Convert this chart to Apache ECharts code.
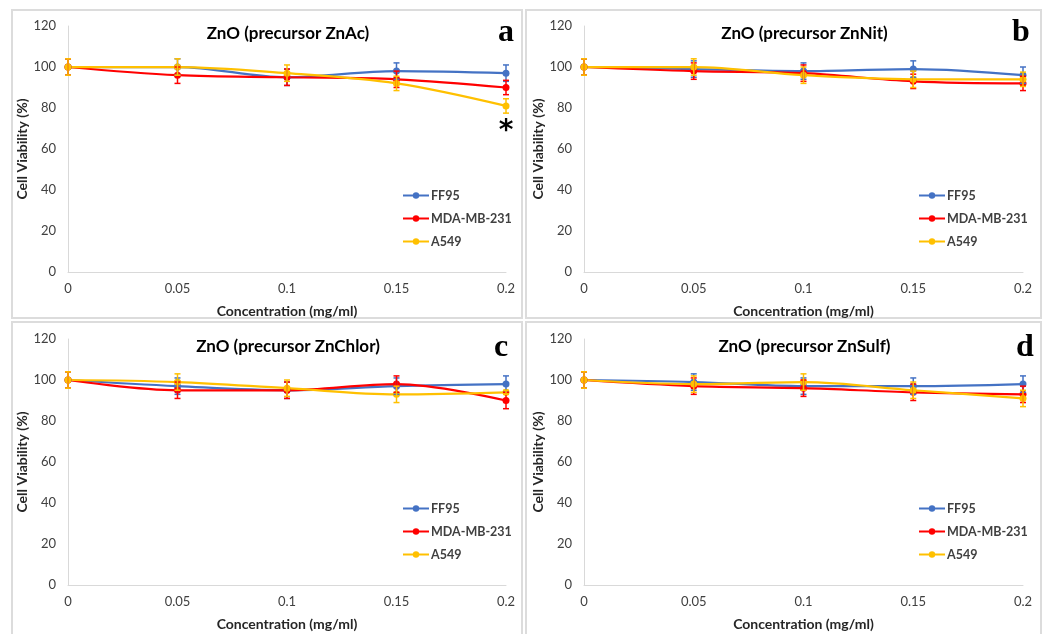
<!DOCTYPE html>
<html>
<head>
<meta charset="utf-8">
<script src="https://cdn.jsdelivr.net/npm/echarts@6/dist/echarts.min.js"></script>
<style>
html,body{margin:0;padding:0;background:#fff;}
#chart{width:1047px;height:634px;}
</style>
</head>
<body>
<div id="chart"></div>
<script>
// ---- data ----
const concentrations = [0, 0.05, 0.1, 0.15, 0.2];
const seriesNames = ['FF95', 'MDA-MB-231', 'A549'];
const panelTitles = ['ZnO (precursor ZnAc)', 'ZnO (precursor ZnNit)', 'ZnO (precursor ZnChlor)', 'ZnO (precursor ZnSulf)'];
const panelLetters = ['a', 'b', 'c', 'd'];
const yTicks = [0, 20, 40, 60, 80, 100, 120];

// Panel a (ZnAc)
const aFF95 = [100, 100, 95, 98, 97];
const aMDA = [100, 96, 95, 94, 90];
const aA549 = [100, 100, 97, 92, 81];
const aFF95Err = [4, 4, 4, 4, 4];
const aMDAErr = [4, 4, 4, 4, 3.5];
const aA549Err = [4, 4, 4, 3.5, 3.5];

// Panel b (ZnNit)
const bFF95 = [100, 99, 98, 99, 96];
const bMDA = [100, 98, 97, 93, 92];
const bA549 = [100, 100, 96, 94, 94];
const bFF95Err = [4, 4, 4, 4, 4];
const bMDAErr = [4, 4, 4, 3.5, 3.5];
const bA549Err = [4, 4, 4, 4, 3.5];

// Panel c (ZnChlor)
const cFF95 = [100, 97, 95, 97, 98];
const cMDA = [100, 95, 95, 98, 90];
const cA549 = [100, 99, 96, 93, 94];
const cFF95Err = [4, 4, 4, 4, 4];
const cMDAErr = [4, 4, 4, 4, 4];
const cA549Err = [4, 4, 4, 4, 1];

// Panel d (ZnSulf)
const dFF95 = [100, 99, 97, 97, 98];
const dMDA = [100, 97, 96, 94, 93];
const dA549 = [100, 98, 99, 95, 91];
const dFF95Err = [4, 4, 4, 4, 4];
const dMDAErr = [4, 4, 4, 4, 4];
const dA549Err = [4, 4, 4, 4, 4];

const panelValues = [[aFF95, aMDA, aA549], [bFF95, bMDA, bA549], [cFF95, cMDA, cA549], [dFF95, dMDA, dA549]];
const panelErrors = [[aFF95Err, aMDAErr, aA549Err], [bFF95Err, bMDAErr, bA549Err], [cFF95Err, cMDAErr, cA549Err], [dFF95Err, dMDAErr, dA549Err]];

// ---- styles / layout ----
const colors = ['#4472C4', '#FF0000', '#FFC000'];
const FONT = 'Lato, "Open Sans", sans-serif';
const grids = [
  {left: 68, top: 26, width: 438, height: 246},
  {left: 584, top: 26, width: 439, height: 246},
  {left: 68, top: 339, width: 438, height: 246},
  {left: 584, top: 339, width: 439, height: 246}
];

const chart = echarts.init(document.getElementById('chart'));

const option = {
  backgroundColor: '#fff',
  animation: false,
  grid: grids,
  xAxis: grids.map((g, i) => ({
    gridIndex: i, type: 'value', min: 0, max: 0.2, interval: 0.05,
    name: 'Concentration (mg/ml)', nameLocation: 'middle', nameGap: 32,
    nameTextStyle: {fontFamily: FONT, fontWeight: 'bold', fontSize: 14, color: '#262626'},
    axisLine: {show: true, lineStyle: {color: '#d9d9d9', width: 1}},
    axisTick: {show: false}, splitLine: {show: false},
    axisLabel: {fontFamily: FONT, fontSize: 13, color: '#404040', margin: 10,
      formatter: v => String(Math.round(v * 100) / 100)}
  })),
  yAxis: grids.map((g, i) => ({
    gridIndex: i, type: 'value', min: yTicks[0], max: yTicks[yTicks.length - 1], interval: yTicks[1] - yTicks[0],
    name: 'Cell Viability (%)', nameLocation: 'middle', nameGap: 37,
    nameTextStyle: {fontFamily: FONT, fontWeight: 'bold', fontSize: 14, color: '#262626'},
    axisLine: {show: true, lineStyle: {color: '#d9d9d9', width: 1}},
    axisTick: {show: false}, splitLine: {show: false},
    axisLabel: {fontFamily: FONT, fontSize: 13, color: '#404040', margin: 12}
  })),
  legend: grids.map((g, i) => ({
    data: seriesNames, orient: 'vertical',
    left: g.left + 334, top: g.top + 163,
    padding: 0, itemGap: 10, itemWidth: 26, itemHeight: 8,
    textStyle: {fontFamily: FONT, fontWeight: 'bold', fontSize: 12.5, color: '#404040', padding: [0, 0, 0, -3]},
    selectedMode: false
  })),
  title: grids.map((g, i) => ({
    text: panelTitles[i], left: g.left + g.width / 2 - 4, top: g.top - 6, textAlign: 'center',
    textStyle: {fontFamily: FONT, fontWeight: 'bold', fontSize: 17, color: '#000'}
  })),
  graphic: [],
  series: []
};

// panel frames, letters
const frames = [
  {x: 12, y: 10, w: 510, h: 308},
  {x: 526, y: 10, w: 515, h: 308},
  {x: 12, y: 322, w: 510, h: 320},
  {x: 526, y: 322, w: 515, h: 320}
];
frames.forEach(f => option.graphic.push({
  type: 'rect', shape: {x: f.x, y: f.y, width: f.w, height: f.h},
  style: {fill: null, stroke: '#dcdcdc', lineWidth: 2}, z: -1
}));
const letterPos = [[506, 33], [1021, 33], [501, 348], [1025, 348]];
letterPos.forEach((p, i) => option.graphic.push({
  type: 'text', x: p[0], y: p[1],
  style: {text: panelLetters[i], font: 'bold 32px "Liberation Serif", "DejaVu Serif", serif',
    fill: '#000', align: 'center', verticalAlign: 'middle'}
}));
option.graphic.push({
  type: 'text', x: 506, y: 132,
  style: {text: '*', font: 'bold 28px "DejaVu Sans", sans-serif', fill: '#000', align: 'center', verticalAlign: 'middle'}
});

function errorRenderer(color) {
  return function (params, api) {
    const x = api.value(0), y = api.value(1), e = api.value(2);
    const top = api.coord([x, y + e]);
    const bot = api.coord([x, y - e]);
    const hw = 3;
    const st = {stroke: color, lineWidth: 1.5};
    return {type: 'group', children: [
      {type: 'line', shape: {x1: top[0], y1: top[1], x2: bot[0], y2: bot[1]}, style: st},
      {type: 'line', shape: {x1: top[0] - hw, y1: top[1], x2: top[0] + hw, y2: top[1]}, style: st},
      {type: 'line', shape: {x1: bot[0] - hw, y1: bot[1], x2: bot[0] + hw, y2: bot[1]}, style: st}
    ]};
  };
}

for (let p = 0; p < 4; p++) {
  for (let s = 0; s < 3; s++) {
    const vals = panelValues[p][s];
    const errs = panelErrors[p][s];
    option.series.push({
      type: 'custom', name: seriesNames[s] + ' error', xAxisIndex: p, yAxisIndex: p,
      renderItem: errorRenderer(colors[s]),
      data: concentrations.map((c, k) => [c, vals[k], errs[k]]),
      z: 3, silent: true
    });
  }
  for (let s = 0; s < 3; s++) {
    const vals = panelValues[p][s];
    option.series.push({
      type: 'line', name: seriesNames[s], xAxisIndex: p, yAxisIndex: p,
      data: concentrations.map((c, k) => [c, vals[k]]),
      smooth: 0.35, symbol: 'circle', symbolSize: 7,
      lineStyle: {color: colors[s], width: 2.25},
      itemStyle: {color: colors[s]},
      z: 2
    });
  }
}

chart.setOption(option);
</script>
</body>
</html>
